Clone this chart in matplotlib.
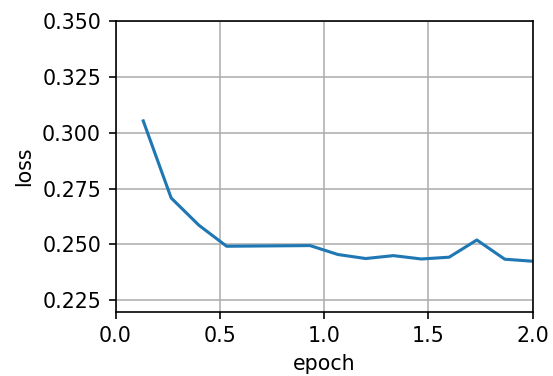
import matplotlib
matplotlib.use("Agg")
import matplotlib.pyplot as plt

# -- Data --------------------------------------------------------------------
epochs = [0.133, 0.267, 0.4, 0.533, 0.667, 0.8, 0.933, 1.067, 1.2, 1.333,
          1.467, 1.6, 1.733, 1.867, 2.0]
loss = [0.3053, 0.2708, 0.2586, 0.2492, 0.2493, 0.2494, 0.2495, 0.2455,
        0.2437, 0.2450, 0.2435, 0.2443, 0.2520, 0.2434, 0.2425]

DPI = 148
W, H = 553, 376

plt.rcParams["font.family"] = "DejaVu Sans"
plt.rcParams["font.size"] = 10

fig = plt.figure(figsize=(W / DPI, H / DPI), dpi=DPI)
ax = fig.add_axes([115.5 / W, 1 - 311.5 / H, 417 / W, 290.5 / H])

ax.plot(epochs, loss, color="#1f77b4", linewidth=1.5)
ax.set_xlim(0, 2.0)
ax.set_ylim(0.22, 0.35)
ax.set_xticks([0.0, 0.5, 1.0, 1.5, 2.0])
ax.set_yticks([0.225, 0.250, 0.275, 0.300, 0.325, 0.350])
ax.set_xlabel("epoch")
ax.set_ylabel("loss")
ax.grid(True)

fig.savefig("out.png", dpi=DPI)
